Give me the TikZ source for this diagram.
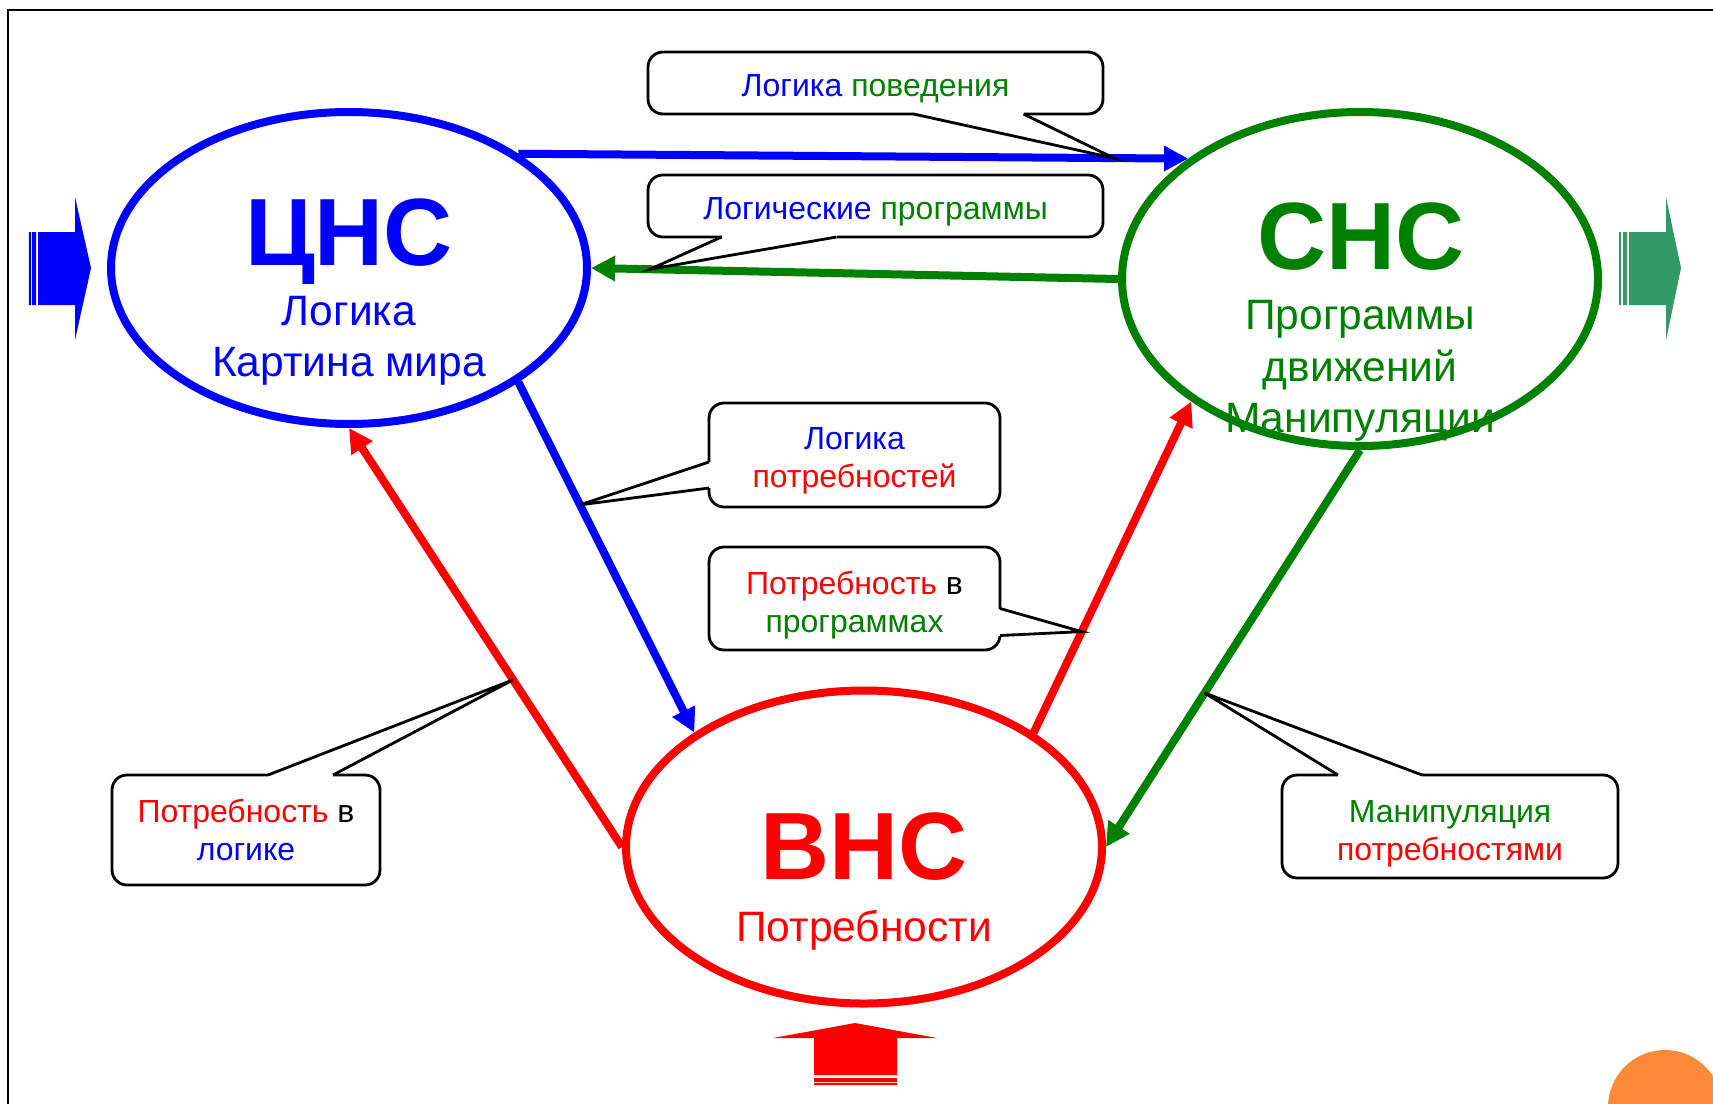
\documentclass[tikz,border=0pt]{standalone}
\usepackage{fontspec}
\setmainfont{Liberation Sans}
\usetikzlibrary{calc,shapes.geometric}
\usetikzlibrary{arrows.meta, positioning}

\begin{document}
\begin{tikzpicture}[
    sys/.style={ellipse,draw,line width=0.08cm,minimum width=4.76cm,minimum height=3.12cm,inner sep=0pt},
    sysname/.style={anchor=base,font=\fontsize{27.2pt}{34pt}\selectfont\bfseries},
    systext/.style={align=center,inner sep=0pt,font=\fontsize{12.1pt}{14.6pt}\selectfont},
    bubble/.style={draw,fill=white,rounded corners=0.15cm,line width=0.8pt,outer sep=0pt},
    bubbletext/.style={align=center,inner sep=0pt,font=\fontsize{9.1pt}{10.8pt}\selectfont},
    link/.style={line width=0.08cm,-{Triangle[length=0.24cm,width=0.24cm]}},
    tail/.style={draw=white,line width=1.6pt},
    pointer/.style={line width=0.8pt}
  ]
        \colorlet{logic}{blue}
        \colorlet{prog}{green!50!black}
        \colorlet{need}{red}
        \definecolor{outgo}{RGB}{51,153,102}
        \definecolor{accent}{RGB}{253,138,56}

        \useasboundingbox (0,0) rectangle (17.13,-11.03);
        \draw[line width=0.02cm] (0.08,-11.2) -- (0.08,-0.10) -- (17.3,-0.10);

        % the three systems
        \node[sys,draw=logic] (cns) at (3.49,-2.68) {};
        \node[sys,draw=prog,minimum height=3.34cm] (sns) at (13.60,-2.79) {};
        \node[sys,draw=need,minimum height=3.13cm] (vns) at (8.64,-8.47) {};

        \node[sysname,text=logic] (cnsname) at (3.49,-2.65) {ЦНС};
        \node[sysname,text=prog] (snsname) at (13.61,-2.69) {СНС};
        \node[sysname,text=need] (vnsname) at (8.64,-8.79) {ВНС};

        \node[systext,text=logic] (cnstext) at (3.49,-3.41) {Логика\\Картина мира};
        \node[systext,text=prog] (snstext) at (13.60,-3.71) {Программы\\движений\\Манипуляции};
        \node[systext,text=need] (vnstext) at (8.64,-9.30) {Потребности};

        % links between systems
        \draw[link,logic] (cns.34) -- coordinate[pos=0.889] (tipA) (sns.145);
        \draw[link,prog] (sns.west) -- coordinate[pos=0.888] (tipB) (cns.east);
        \draw[link,logic] (cns.-34) -- coordinate[pos=0.35] (tipC) (vns.146);
        \draw[link,need] (vns.34) -- coordinate[pos=0.305] (tipD) (sns.216);
        \draw[link,need] (vns.west) -- coordinate[pos=0.399] (tipE) (cns.south);
        \draw[link,prog] (sns.south) -- coordinate[pos=0.612] (tipF) (vns.east);

        % callouts
        \node[bubble,minimum width=4.55cm,minimum height=0.62cm] (cbA) at (8.755,-0.83) {};
        \node[bubble,minimum width=4.55cm,minimum height=0.62cm] (cbB) at (8.755,-2.06) {};
        \node[bubble,minimum width=2.91cm,minimum height=1.04cm] (cbC) at (8.545,-4.55) {};
        \node[bubble,minimum width=2.91cm,minimum height=1.03cm] (cbD) at (8.545,-5.985) {};
        \node[bubble,minimum width=2.68cm,minimum height=1.10cm] (cbE) at (2.46,-8.30) {};
        \node[bubble,minimum width=3.36cm,minimum height=1.03cm] (cbF) at (14.50,-8.265) {};

        \node[bubbletext] (cbAtext) at ([yshift=-0.055cm]cbA)
          {\textcolor{logic}{Логика} \textcolor{prog}{поведения}};
        \node[bubbletext] (cbBtext) at ([yshift=-0.055cm]cbB)
          {\textcolor{logic}{Логические} \textcolor{prog}{программы}};
        \node[bubbletext] (cbCtext) at ([yshift=-0.055cm]cbC)
          {\textcolor{logic}{Логика}\\\textcolor{need}{потребностей}};
        \node[bubbletext] (cbDtext) at ([yshift=-0.065cm]cbD)
          {\textcolor{need}{Потребность} в\\\textcolor{prog}{программах}};
        \node[bubbletext] (cbEtext) at (cbE)
          {\textcolor{need}{Потребность} в\\\textcolor{logic}{логике}};
        \node[bubbletext] (cbFtext) at ([yshift=-0.075cm]cbF)
          {\textcolor{prog}{Манипуляция}\\\textcolor{need}{потребностями}};

        \coordinate (bA1) at ([xshift=0.38cm]cbA.south);
        \coordinate (bA2) at ([xshift=1.48cm]cbA.south);
        \coordinate (bB1) at ([xshift=-1.54cm]cbB.south);
        \coordinate (bB2) at ([xshift=-0.39cm]cbB.south);
        \coordinate (bC1) at ([yshift=-0.07cm]cbC.west);
        \coordinate (bC2) at ([yshift=-0.33cm]cbC.west);
        \coordinate (bD1) at ([yshift=-0.10cm]cbD.east);
        \coordinate (bD2) at ([yshift=-0.37cm]cbD.east);
        \coordinate (bE1) at ([xshift=0.22cm]cbE.north);
        \coordinate (bE2) at ([xshift=0.87cm]cbE.north);
        \coordinate (bF1) at ([xshift=-1.12cm]cbF.north);
        \coordinate (bF2) at ([xshift=-0.28cm]cbF.north);

        \foreach \cb in {A,B,C,D,E,F}
        {
          \draw[tail] (b\cb1) -- (b\cb2);
          \draw[pointer] (b\cb1) -- (tip\cb) -- (b\cb2);
        }

        % block arrows
        \fill[logic] (0.38,-2.32) -- (0.75,-2.32) -- (0.75,-1.97) -- (0.91,-2.68)
          -- (0.75,-3.40) -- (0.75,-3.05) -- (0.38,-3.05) -- cycle;
        \fill[logic] (0.29,-2.32) rectangle (0.31,-3.05) (0.32,-2.32) rectangle (0.36,-3.05);
        \fill[outgo] (16.29,-2.32) -- (16.66,-2.32) -- (16.66,-1.97) -- (16.81,-2.68)
          -- (16.66,-3.40) -- (16.66,-3.05) -- (16.29,-3.05) -- cycle;
        \fill[outgo] (16.19,-2.32) rectangle (16.21,-3.05) (16.23,-2.32) rectangle (16.27,-3.05);
        \fill[need] (8.14,-10.75) -- (8.14,-10.38) -- (7.73,-10.38) -- (8.55,-10.23)
          -- (9.37,-10.38) -- (8.97,-10.38) -- (8.97,-10.75) -- cycle;
        \fill[need] (8.14,-10.78) rectangle (8.97,-10.82) (8.14,-10.83) rectangle (8.97,-10.85);

        \fill[accent] (16.65,-11.07) circle (0.57);
\end{tikzpicture}
\end{document}
